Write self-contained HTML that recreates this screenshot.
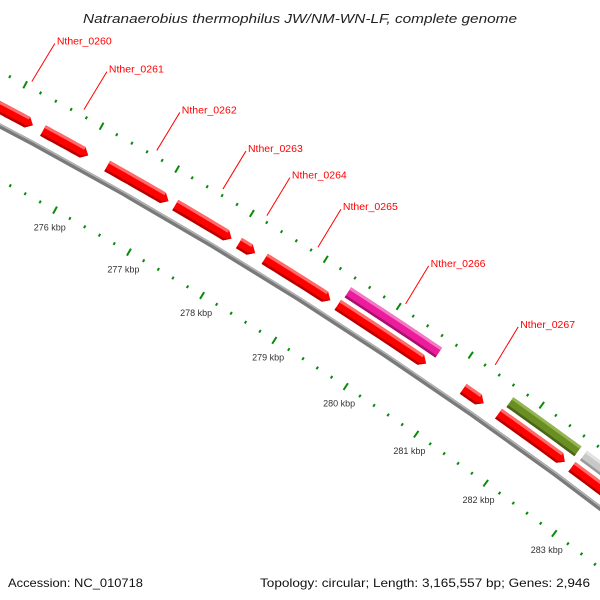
<!DOCTYPE html>
<html><head><meta charset="utf-8">
<style>
html,body{margin:0;padding:0;background:#fff;}
svg{display:block;font-family:"Liberation Sans","DejaVu Sans",sans-serif;}
</style></head>
<body>
<svg id="map" width="600" height="600" viewBox="0 0 600 600" xmlns="http://www.w3.org/2000/svg">
<rect width="600" height="600" fill="#fff"/>
<text x="300" y="23" text-anchor="middle" font-size="13" font-style="italic" fill="#222" textLength="434" lengthAdjust="spacingAndGlyphs">Natranaerobius thermophilus JW/NM-WN-LF, complete genome</text>
<g id="ticks"></g>
<g id="backbone"></g>
<g id="genes"></g>
<g id="labels"></g>
<text x="8" y="587" font-size="12" fill="#111" textLength="135" lengthAdjust="spacingAndGlyphs">Accession: NC_010718</text>
<text x="590" y="587" text-anchor="end" font-size="12" fill="#111" textLength="330" lengthAdjust="spacingAndGlyphs">Topology: circular; Length: 3,165,557 bp; Genes: 2,946</text>
</svg>
<script>
const geneStart=[274.8,275.43,276.28,277.19,278.05,278.4,279.4,281.15,281.65,282.7,279.42,281.68,282.73];
const geneEnd=[275.3,276.03,277.1,277.95,278.27,279.3,280.63,281.44,282.6,283.7,280.68,282.65,283.7];
const geneRow=[0,0,0,0,0,0,0,0,0,0,1,1,1];
const geneColor=["red","red","red","red","red","red","red","red","red","red","pink","green","gray"];
const geneArrow=[1,1,1,1,1,1,1,1,1,1,0,0,0];
const geneLabel=["Nther_0260","Nther_0261","Nther_0262","Nther_0263","Nther_0264","Nther_0265","","Nther_0267","","","Nther_0266","",""];
const tickKbp=[274,275,276,277,278,279,280,281,282,283,284];
const tickLabels=["274 kbp","275 kbp","276 kbp","277 kbp","278 kbp","279 kbp","280 kbp","281 kbp","282 kbp","283 kbp",""];

const NS="http://www.w3.org/2000/svg";
const CX=-2063, CY=4028, A0=-60.98, DEG=1.116;
const R_BB=4414, R_ROW=[4430,4446], HH=6, R_OT=4462, R_IT=4366, R_TL=4349, R_LB=4468;
const PAL={red:["#ff0000","#ff6a6a","#b80000"],pink:["#ec1c9c","#f27ac4","#a8106e"],green:["#6b8e23","#93b552","#4a6418"],gray:["#c8c8c8","#e2e2e2","#9a9a9a"]};
function pt(k,r){const a=(A0+(k-276)*DEG)*Math.PI/180;return [CX+r*Math.cos(a),CY+r*Math.sin(a)];}
function mk(tag,attrs,parent){const e=document.createElementNS(NS,tag);for(const k in attrs)e.setAttribute(k,attrs[k]);parent.appendChild(e);return e;}
function arcPts(k0,k1,r){const n=10,out=[];for(let i=0;i<=n;i++){out.push(pt(k0+(k1-k0)*i/n,r));}return out;}
function poly(pts){return pts.map(p=>p[0].toFixed(1)+","+p[1].toFixed(1)).join(" ");}

const bb=document.getElementById("backbone");
function arcPath(k0,k1,r){const p=arcPts(k0,k1,r);return "M"+p.map(q=>q[0].toFixed(1)+" "+q[1].toFixed(1)).join(" L");}
let e=mk("path",{d:arcPath(273,285,R_BB),fill:"none",stroke:"#7a7a7a","stroke-width":5},bb);


e=mk("path",{d:arcPath(273,285,R_BB+1.5),fill:"none",stroke:"#b4b4b4","stroke-width":1.5},bb);



const tg=document.getElementById("ticks");
for(let i=0;i<tickKbp.length;i++){
  for(let j=0;j<5;j++){
    const k=tickKbp[i]+j*0.2;
    const len=j===0?4:1.5;
    for(const R of [R_OT,R_IT]){
      const a=pt(k,R-len),b=pt(k,R+len);
      const t=mk("line",{x1:a[0],y1:a[1],x2:b[0],y2:b[1],stroke:"#0a8a0a","stroke-width":2},tg);
      
      
    }
  }
  if(tickLabels[i]){
    const lp=pt(tickKbp[i]+0.04,R_TL);
    const tl=mk("text",{x:lp[0],y:lp[1]+4,"text-anchor":"middle","font-size":"9",fill:"#333"},tg);
    tl.textContent=tickLabels[i];
    
    
  }
}

const gg=document.getElementById("genes");
const lg=document.getElementById("labels");
for(let i=0;i<geneStart.length;i++){
  const r=R_ROW[geneRow[i]], s=geneStart[i], en=geneEnd[i];
  const c=PAL[geneColor[i]];
  const bodyEnd=geneArrow[i]?Math.max(s,en-0.075):en;
  const g=mk("g",{},gg);
  
  
  const outer=arcPts(s,bodyEnd,r+HH), inner=arcPts(s,bodyEnd,r-HH).reverse();
  let pts=outer.slice();
  if(geneArrow[i])pts.push(pt(en,r));
  pts=pts.concat(inner);
  mk("polygon",{points:poly(pts),fill:c[0]},g);
  const hi=arcPts(s,bodyEnd,r+HH).concat(arcPts(s,bodyEnd,r+HH-3).reverse());
  mk("polygon",{points:poly(hi),fill:c[1]},g);
  const lo=arcPts(s,bodyEnd,r-HH+2.5).concat(arcPts(s,bodyEnd,r-HH).reverse());
  mk("polygon",{points:poly(lo),fill:c[2]},g);
  if(geneArrow[i]){
    const tip=[pt(bodyEnd,r-HH),pt(en,r),pt(bodyEnd,r-HH+2.5)];
    mk("polygon",{points:poly(tip),fill:c[2]},g);
  }
  if(geneLabel[i]){
    const a=pt((s+en)/2,R_LB);
    const ln=mk("line",{x1:a[0],y1:a[1],x2:a[0]+23,y2:a[1]-38,stroke:"#ff0000","stroke-width":1},lg);
    
    
    const tx=mk("text",{x:a[0]+25,y:a[1]-37,"font-size":"10.5",fill:"#ff0000"},lg);
    tx.textContent=geneLabel[i];
    
    
  }
}
</script>
</body></html>
